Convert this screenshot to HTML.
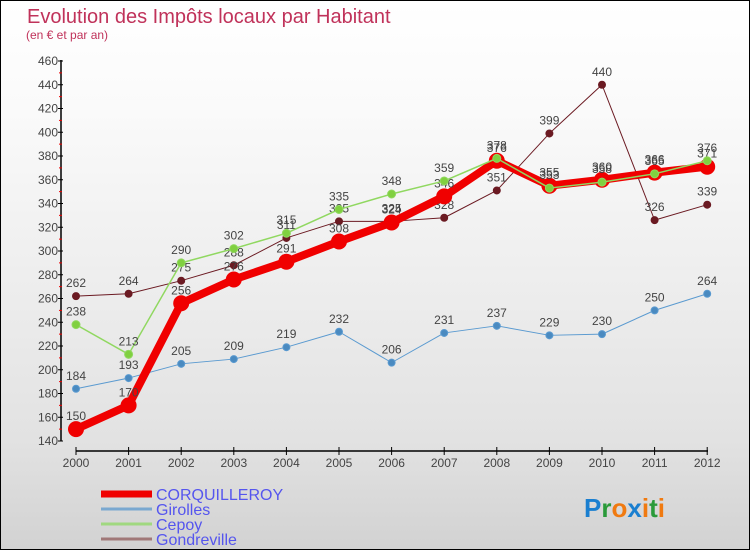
<!DOCTYPE html>
<html><head><meta charset="utf-8"><style>
body{margin:0;width:750px;height:550px;overflow:hidden;font-family:"Liberation Sans",sans-serif}
#wrap{position:relative;width:748px;height:548px;border:1px solid #000;background:linear-gradient(#fff,#fafafa 20%,#e2e2e2 80%,#d2d2d2)}
</style></head><body>
<div id="wrap">
<svg id="c" width="748" height="548" style="position:absolute;left:0;top:0">
<text x="26" y="22" font-size="20" fill="#c0325a">Evolution des Impôts locaux par Habitant</text>
<text x="25" y="38" font-size="12" fill="#c0325a">(en € et par an)</text>
<g id="axes"></g><g id="series"></g><g id="legend"></g>
<text x="583" y="516" font-size="26" font-weight="bold"><tspan fill="#1a7fd0">P</tspan><tspan fill="#2a9a3a">r</tspan><tspan fill="#f07a10">o</tspan><tspan fill="#1a7fd0">x</tspan><tspan fill="#f07a10">i</tspan><tspan fill="#2a9a3a">t</tspan><tspan fill="#f07a10">i</tspan></text>
</svg></div>
<script>
const years=[2000,2001,2002,2003,2004,2005,2006,2007,2008,2009,2010,2011,2012];
const corq=[150,170,256,276,291,308,324,346,376,355,360,366,371];
const girolles=[184,193,205,209,219,232,206,231,237,229,230,250,264];
const cepoy=[238,213,290,302,315,335,348,359,378,353,358,365,376];
const gond=[262,264,275,288,311,325,325,328,351,399,440,326,339];
const yTicks=[140,160,180,200,220,240,260,280,300,320,340,360,380,400,420,440,460];
const NS='http://www.w3.org/2000/svg';
const X=i=>75+i*52.6, Y=v=>440-(v-140)*380/320;
function mk(t,a,p){const e=document.createElementNS(NS,t);for(const k in a)e.setAttribute(k,a[k]);p.appendChild(e);return e;}
const ax=document.getElementById('axes');
let l=mk('line',{x1:60,y1:59,x2:60,y2:440,stroke:'#000','stroke-width':1.5},ax);


yTicks.forEach((v,k)=>{
 const t=mk('line',{x1:57,x2:62,y1:Y(v),y2:Y(v),stroke:'#000'},ax);
 
 
 if(k<yTicks.length-1){
 const r=mk('line',{x1:58,x2:61,y1:Y(v+10),y2:Y(v+10),stroke:'#e00'},ax);
 
 
 }
 const tx=mk('text',{x:57,y:Y(v)+4,'text-anchor':'end','font-size':12,fill:'#444'},ax);tx.textContent=v;
 
 
});
l=mk('line',{x1:75,y1:450,x2:707,y2:450,stroke:'#000','stroke-width':1.5},ax);


years.forEach((y,i)=>{
 const t=mk('line',{x1:X(i),x2:X(i),y1:446,y2:454,stroke:'#000'},ax);
 
 
 const tx=mk('text',{x:X(i),y:466,'text-anchor':'middle','font-size':12,fill:'#444'},ax);tx.textContent=y;
 
 
});
const sg=document.getElementById('series');
function series(d,color,w,r,fill,name){
 const g=mk('g',{},sg);
 
 
 const p=mk('polyline',{points:d.map((v,i)=>X(i)+','+Y(v)).join(' '),fill:'none',stroke:color,'stroke-width':w,'stroke-linejoin':'round'},g);
 
 
 d.forEach((v,i)=>{
  const c=mk('circle',{cx:X(i),cy:Y(v),r:r,fill:fill,stroke:color,'stroke-width':1},g);
  
  
  const t=mk('text',{x:X(i),y:Y(v)-9,'text-anchor':'middle','font-size':12,fill:'#444'},g);t.textContent=v;
  
  
 });
}
series(gond,'#6b1a22',1,3.5,'#6b1a22','gondreville');
series(girolles,'#5a9ad0',1,3.5,'#4a8ac0','girolles');
series(corq,'#f00000',8,7.5,'#f00000','corquilleroy');
series(cepoy,'#90d860',1.5,4,'#80d040','cepoy');
const lg=document.getElementById('legend');
[['CORQUILLEROY','#f00000',7],['Girolles','#7aa8d0',3],['Cepoy','#a0d880',3],['Gondreville','#a07878',3]].forEach((e,i)=>{
 const y=493+i*15;
 const ln=mk('line',{x1:100,x2:151,y1:y,y2:y,stroke:e[1],'stroke-width':e[2]},lg);
 
 
 const t=mk('text',{x:155,y:y+6,'font-size':16,fill:'#5555ee'},lg);t.textContent=e[0];
 
 
});
</script>
</body></html>
